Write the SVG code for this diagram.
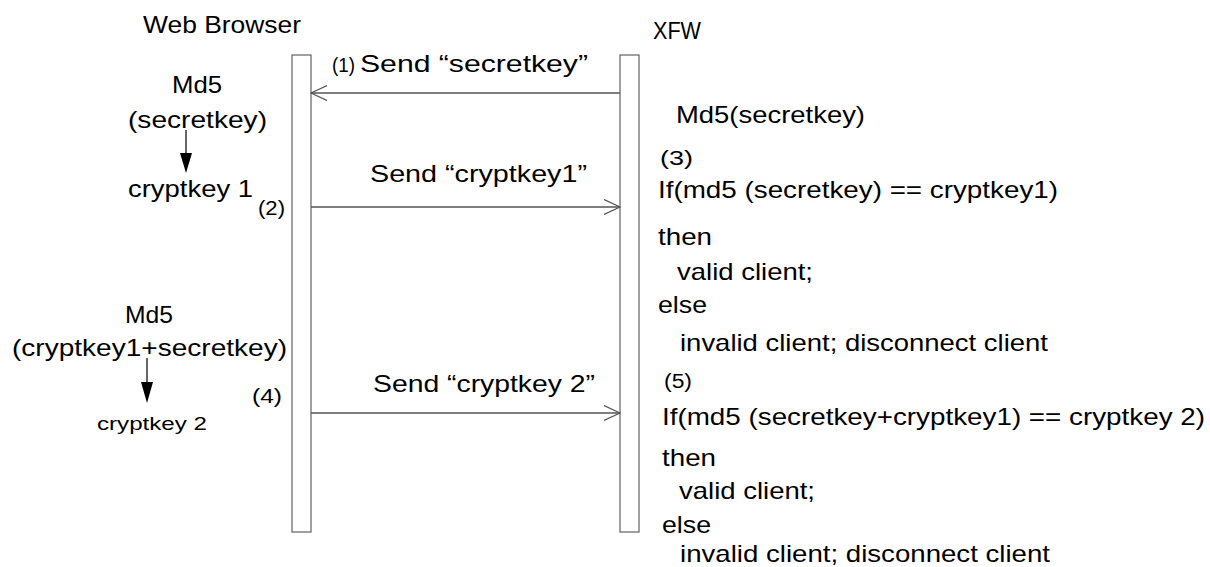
<svg xmlns="http://www.w3.org/2000/svg" width="1210" height="567" viewBox="0 0 1210 567">
  <style>
    text { font-family: "Liberation Sans", "Noto Sans CJK JP", sans-serif; fill: #000; }
    .t { font-size: 24px; }
    .s { font-size: 20px; }
    .xs { font-size: 19px; }
    .life { fill: #fff; stroke: #6e6e6e; stroke-width: 1.3; }
    .msg { stroke: #555; stroke-width: 1.3; fill: none; }
    .calc { stroke: #000; stroke-width: 1.2; fill: none; }
  </style>
  <defs>
    <marker id="open" markerWidth="18" markerHeight="18" refX="16" refY="8" orient="auto" markerUnits="userSpaceOnUse">
      <path d="M0,0.5 L16,8 L0,15.5" fill="none" stroke="#555" stroke-width="1.2"/>
    </marker>
  </defs>

  <!-- Web Browser lifeline -->
  <g id="browser">
    <text class="t" x="143" y="33" textLength="158" lengthAdjust="spacingAndGlyphs">Web Browser</text>
    <rect class="life" x="292" y="55" width="19" height="477"/>
  </g>

  <!-- XFW lifeline -->
  <g id="xfw">
    <text class="t" x="653" y="39" textLength="48" lengthAdjust="spacingAndGlyphs">XFW</text>
    <rect class="life" x="620" y="55" width="19" height="477"/>
  </g>

  <!-- browser-side computation of cryptkey 1 -->
  <g id="calc1">
    <text class="t" x="172" y="93" textLength="50" lengthAdjust="spacingAndGlyphs">Md5</text>
    <text class="t" x="128" y="128" textLength="139" lengthAdjust="spacingAndGlyphs">(secretkey)</text>
    <text class="t" x="128" y="197" textLength="125" lengthAdjust="spacingAndGlyphs">cryptkey 1</text>
    <text class="s" x="258" y="215" textLength="27" lengthAdjust="spacingAndGlyphs">(2)</text>
  </g>

  <!-- browser-side computation of cryptkey 2 -->
  <g id="calc2">
    <text class="t" x="125" y="323" textLength="48" lengthAdjust="spacingAndGlyphs">Md5</text>
    <text class="t" x="12" y="356" textLength="275" lengthAdjust="spacingAndGlyphs">(cryptkey1+secretkey)</text>
    <text class="s" x="252" y="403" textLength="30" lengthAdjust="spacingAndGlyphs">(4)</text>
    <text class="xs" x="97" y="430" textLength="110" lengthAdjust="spacingAndGlyphs">cryptkey 2</text>
  </g>

  <!-- XFW-side checks -->
  <g id="check0">
    <text class="t" x="676" y="123" textLength="189" lengthAdjust="spacingAndGlyphs">Md5(secretkey)</text>
  </g>
  <g id="check1">
    <text class="s" x="660" y="165" textLength="33" lengthAdjust="spacingAndGlyphs">(3)</text>
    <text class="t" x="658" y="198" textLength="400" lengthAdjust="spacingAndGlyphs">If(md5 (secretkey) == cryptkey1)</text>
    <text class="t" x="658" y="245" textLength="54" lengthAdjust="spacingAndGlyphs">then</text>
    <text class="t" x="677" y="280" textLength="136" lengthAdjust="spacingAndGlyphs">valid client;</text>
    <text class="t" x="658" y="313" textLength="49" lengthAdjust="spacingAndGlyphs">else</text>
    <text class="t" x="680" y="351" textLength="368" lengthAdjust="spacingAndGlyphs">invalid client; disconnect client</text>
  </g>
  <g id="check2">
    <text class="s" x="664" y="388" textLength="28" lengthAdjust="spacingAndGlyphs">(5)</text>
    <text class="t" x="662" y="425" textLength="543" lengthAdjust="spacingAndGlyphs">If(md5 (secretkey+cryptkey1) == cryptkey 2)</text>
    <text class="t" x="662" y="466" textLength="54" lengthAdjust="spacingAndGlyphs">then</text>
    <text class="t" x="679" y="499" textLength="136" lengthAdjust="spacingAndGlyphs">valid client;</text>
    <text class="t" x="662" y="533" textLength="49" lengthAdjust="spacingAndGlyphs">else</text>
    <text class="t" x="680" y="562" textLength="370" lengthAdjust="spacingAndGlyphs">invalid client; disconnect client</text>
  </g>

  <!-- connectors -->
  <g id="connectors">
    <line class="msg" x1="620" y1="93" x2="311" y2="93" marker-end="url(#open)"/>
    <text class="s" x="332" y="72" textLength="23" lengthAdjust="spacingAndGlyphs">(1)</text>
    <text class="t" x="360" y="72" textLength="228" lengthAdjust="spacingAndGlyphs">Send “secretkey”</text>

    <line class="msg" x1="311" y1="207" x2="620" y2="207" marker-end="url(#open)"/>
    <text class="t" x="370" y="182" textLength="217" lengthAdjust="spacingAndGlyphs">Send “cryptkey1”</text>

    <line class="msg" x1="311" y1="413" x2="620" y2="413" marker-end="url(#open)"/>
    <text class="t" x="373" y="392" textLength="222" lengthAdjust="spacingAndGlyphs">Send “cryptkey 2”</text>

    <line class="calc" x1="186" y1="130" x2="186" y2="153"/>
    <path d="M180,153 L192,153 L186,173 Z" fill="#000"/>
    <line class="calc" x1="147" y1="358" x2="147" y2="382"/>
    <path d="M141,382 L153,382 L147,403 Z" fill="#000"/>
  </g>
</svg>
